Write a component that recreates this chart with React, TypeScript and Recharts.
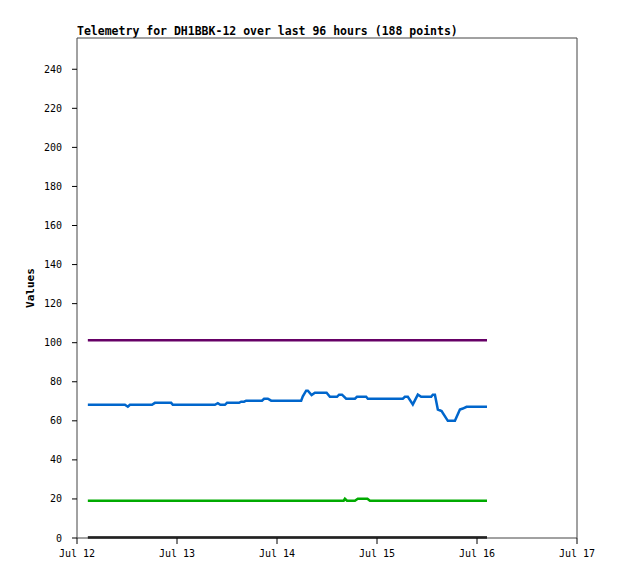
import React from 'react';
import { LineChart, Line, XAxis, YAxis, ReferenceLine } from 'recharts';

// hours since Jul 12 00:00
const blueHours = [2.6, 11.5, 12.2, 12.7, 18, 18.7, 22.6, 23, 33.1, 33.8, 34.4, 35.5, 36, 38.9, 39.4, 40.1, 40.6, 44.4, 44.9, 45.8, 46.6, 53.8, 54.2, 55, 55.4, 56.3, 57.1, 59.9, 60.7, 62.4, 62.9, 63.6, 64.6, 66.7, 67.2, 69.4, 69.8, 78.2, 78.7, 79.4, 80.6, 81.8, 82.6, 85, 85.4, 85.9, 86.6, 87.5, 89, 90.7, 91.9, 92.6, 93.5, 98.4];
const blueValues = [68.2, 68.2, 67.2, 68.2, 68.2, 69.2, 69.2, 68.2, 68.2, 69, 68.2, 68.2, 69.2, 69.2, 69.8, 69.8, 70.3, 70.3, 71.3, 71.3, 70.3, 70.3, 72.5, 75.4, 75.4, 73.2, 74.4, 74.4, 72.3, 72.3, 73.4, 73.4, 71.3, 71.3, 72.3, 72.3, 71.3, 71.3, 72.3, 72.3, 68.4, 73.4, 72.3, 72.3, 73.4, 73.4, 65.8, 65, 60, 60, 65.8, 66.3, 67.2, 67.2];

const greenHours = [2.6, 64.0, 64.3, 64.8, 66.7, 67.4, 69.7, 70.3, 98.4];
const greenValues = [19.1, 19.1, 20.1, 19.1, 19.1, 20.1, 20.1, 19.1, 19.1];

const purpleHours = [2.6, 98.4];
const purpleValues = [101.3, 101.3];

const blackHours = [2.6, 98.4];
const blackValues = [0.2, 0.2];

const yTicks = [0, 20, 40, 60, 80, 100, 120, 140, 160, 180, 200, 220, 240];
const xTicks = [0, 24, 48, 72, 96, 120];
const dayLabels = ['Jul 12', 'Jul 13', 'Jul 14', 'Jul 15', 'Jul 16', 'Jul 17'];

const toRows = (hours: number[], values: number[]) => hours.map((h, i) => ({ h, v: values[i] }));

const FONT = '"DejaVu Sans Mono", monospace';
const tickStyle = { fontSize: 10, fontFamily: FONT, fill: '#000' };

export default function App() {
  return (
    <div style={{ position: 'absolute', left: 0, top: 0, width: 618, height: 579, background: '#fff' }}>
      <div
        style={{
          position: 'absolute',
          left: 77,
          top: 24,
          fontFamily: FONT,
          fontSize: 11.5,
          fontWeight: 'bold',
          whiteSpace: 'nowrap',
        }}
      >
        Telemetry for DH1BBK-12 over last 96 hours (188 points)
      </div>
      <LineChart width={618} height={579} margin={{ top: 38, right: 41, bottom: 11, left: 0 }}>
        <XAxis
          type="number"
          dataKey="h"
          domain={[0, 120]}
          ticks={xTicks}
          tickFormatter={(v) => dayLabels[xTicks.indexOf(v)]}
          tick={tickStyle}
          tickSize={6}
          tickMargin={6}
          height={30}
          stroke="#444"
          tickLine={{ stroke: '#000' }}
          allowDuplicatedCategory={false}
        />
        <YAxis
          type="number"
          domain={[0, 256]}
          ticks={yTicks}
          tick={tickStyle}
          tickSize={5}
          tickMargin={10}
          width={77}
          stroke="#444"
          tickLine={{ stroke: '#000' }}
          label={{
            value: 'Values',
            angle: -90,
            position: 'insideLeft',
            offset: 30,
            style: { fontFamily: FONT, fontSize: 11, fontWeight: 'bold', fill: '#000', textAnchor: 'middle' },
          }}
        />
        <ReferenceLine y={256} stroke="#444" />
        <ReferenceLine x={120} stroke="#444" />
        <Line data={toRows(blackHours, blackValues)} dataKey="v" stroke="#000" strokeWidth={2.5} dot={false} isAnimationActive={false} />
        <Line data={toRows(greenHours, greenValues)} dataKey="v" stroke="#00aa00" strokeWidth={2.5} dot={false} isAnimationActive={false} />
        <Line data={toRows(purpleHours, purpleValues)} dataKey="v" stroke="#660066" strokeWidth={2.5} dot={false} isAnimationActive={false} />
        <Line data={toRows(blueHours, blueValues)} dataKey="v" stroke="#0066cc" strokeWidth={2.5} dot={false} isAnimationActive={false} />
      </LineChart>
    </div>
  );
}
